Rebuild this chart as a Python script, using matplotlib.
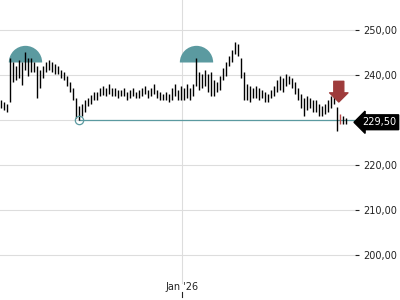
import matplotlib
matplotlib.use('Agg')
import matplotlib.pyplot as plt
from matplotlib.ticker import FuncFormatter

# daily highs / lows (one bar per trading day)
highs = [234.4, 234.0, 233.6, 243.8, 242.9, 242.0, 243.3, 242.9, 245.1, 243.8,
         243.8, 242.9, 242.0, 241.1, 242.0, 242.9, 243.3, 242.9, 242.4, 242.0,
         241.1, 240.7, 239.8, 238.4, 237.1, 234.9, 233.1, 233.6, 234.4, 234.9,
         235.6, 236.2, 236.2, 237.1, 237.6, 237.1, 238.0, 237.1, 237.1, 236.7,
         236.7, 237.1, 236.2, 236.7, 237.1, 236.2, 236.7, 237.1, 237.6, 236.7,
         237.1, 238.0, 236.7, 236.2, 235.8, 236.2, 235.8, 237.1, 238.0, 236.7,
         237.6, 237.1, 238.0, 237.1, 238.0, 243.8, 240.7, 240.2, 241.1, 240.2,
         240.7, 238.9, 238.4, 239.8, 241.6, 242.9, 244.2, 245.6, 247.3, 246.9,
         243.8, 240.7, 238.0, 237.6, 237.1, 237.6, 237.1, 236.7, 236.2, 235.8,
         236.7, 237.6, 238.9, 239.8, 239.3, 240.2, 239.8, 239.3, 238.4, 237.1,
         235.8, 234.9, 235.3, 234.9, 234.4, 234.4, 233.6, 233.1, 233.6, 234.4,
         235.3, 235.3, 232.9, 231.3, 230.9, 230.4]
lows = [232.7, 232.2, 231.8, 234.0, 238.4, 238.9, 239.3, 237.8, 241.1, 239.8,
        240.7, 240.7, 234.9, 237.1, 239.3, 240.7, 241.1, 240.7, 240.2, 240.2,
        239.3, 238.9, 237.6, 236.2, 234.4, 230.4, 230.0, 230.9, 231.8, 233.1,
        233.6, 234.4, 234.4, 235.3, 235.6, 235.3, 235.8, 235.3, 235.3, 234.9,
        235.3, 235.3, 234.4, 234.9, 235.3, 234.9, 234.9, 235.3, 235.8, 234.9,
        235.3, 235.8, 234.9, 234.4, 234.4, 234.4, 234.0, 234.4, 235.3, 234.4,
        234.4, 234.4, 234.9, 234.4, 235.3, 237.6, 236.7, 237.1, 237.6, 236.2,
        235.3, 235.3, 236.2, 236.7, 238.9, 239.8, 242.0, 242.9, 244.7, 244.2,
        239.3, 234.4, 234.4, 234.0, 234.9, 234.9, 234.4, 234.9, 234.0, 234.0,
        234.9, 235.3, 236.2, 236.7, 236.2, 237.6, 238.0, 237.1, 235.8, 234.4,
        232.7, 230.9, 232.2, 232.7, 231.8, 231.8, 230.9, 230.9, 231.3, 231.8,
        232.7, 233.6, 227.6, 229.1, 229.1, 229.1]
last_price = 229.50

# signals
top_idx = [8, 65]
top_price = [242.9, 242.9]
support_idx = 26
support_price = 230.0
sell_idx = 112.7
sell_from, sell_to = 238.6, 234.0
red_bar = 113

yticks = [200, 210, 220, 230, 240, 250]
hidden_tick = 230  # covered by the last price tag
jan_idx = 60.3
jan_label = "Jan '26"

teal = '#5b9aa0'
grid = '#dddddd'


def price_fmt(v, pos=None):
    if round(v) == hidden_tick:
        return ''
    return f'{v:.2f}'.replace('.', ',')


fig = plt.figure(figsize=(4, 3), dpi=100)
ax = fig.add_axes([0, 0, 0.8875, 1])
ax.set_xlim(-0.2, 118.1)
ax.set_ylim(190.0, 256.67)

for s in ax.spines.values():
    s.set_visible(False)

ax.set_yticks(yticks)
ax.yaxis.tick_right()
ax.yaxis.set_major_formatter(FuncFormatter(price_fmt))
ax.tick_params(axis='y', length=3, width=0.8, pad=3, labelsize=7, colors='#222222')
ax.set_xticks([])
ax.grid(axis='y', color=grid, lw=0.8)
ax.set_axisbelow(True)

# January gridline, label and tick
ax.axvline(jan_idx, ymin=0.057, ymax=1, color=grid, lw=0.8, zorder=0)
ax.text(jan_idx, 0.043, jan_label, transform=ax.get_xaxis_transform(),
        ha='center', va='center', fontsize=7, color='#222222')
ax.plot([jan_idx, jan_idx], [0.01, 0.027], transform=ax.get_xaxis_transform(),
        color='#222222', lw=0.8, clip_on=False)

# half-disc top markers (under the bars)
ax.plot(top_idx, top_price, ls='none', marker='o', ms=24, fillstyle='top',
        mfc=teal, mfcalt='none', mew=0, zorder=1)

# bars
colors = ['black'] * len(highs)
colors[red_bar] = '#b84a4a'
ax.vlines(range(len(highs)), lows, highs, colors=colors, lw=1, zorder=2)

# support line
ax.plot([support_idx, 118.1], [support_price, support_price], color=teal, lw=0.9, zorder=1.5)
ax.plot(support_idx, support_price, marker='o', ms=6, mfc='none', mec=teal, mew=0.9, zorder=3)

# sell arrow
ax.annotate('', xy=(sell_idx, sell_to), xytext=(sell_idx, sell_from),
            arrowprops=dict(arrowstyle='simple,head_length=0.55,head_width=1.1,tail_width=0.6',
                            color='#9e3b3b', shrinkA=0, shrinkB=0, mutation_scale=12))

# last price tag
ax.text(1.02, last_price, f'{last_price:.2f}'.replace('.', ','),
        transform=ax.get_yaxis_transform(), ha='left', va='center', fontsize=7,
        color='white', clip_on=False, zorder=5,
        bbox=dict(boxstyle='larrow,pad=0.25', fc='black', ec='black'))

fig.savefig('out.png', dpi=100)
